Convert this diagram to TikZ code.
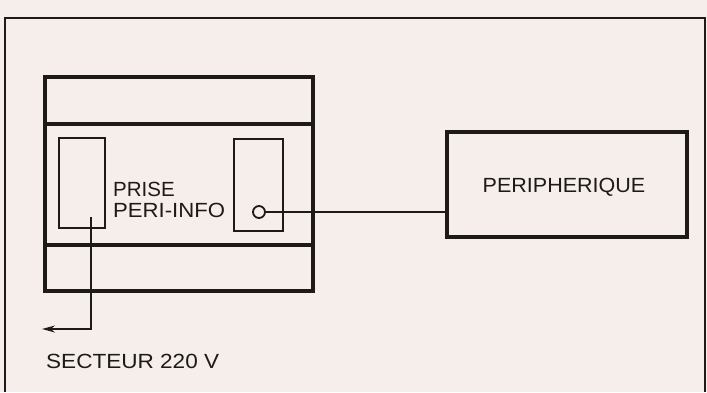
\documentclass[tikz,border=0pt]{standalone}
\usepackage{fontspec}
\setmainfont{Liberation Sans}
\usetikzlibrary{arrows.meta}
\definecolor{paper}{HTML}{F5EEEA}
\definecolor{ink}{HTML}{1E1A18}
\begin{document}
\begin{tikzpicture}[x=1pt,y=-1pt,
  box/.style={draw=ink,rectangle,inner sep=0pt,outer sep=0pt,anchor=north west},
  lbl/.style={text=ink,inner sep=0pt,anchor=base west,font=\fontsize{20.5}{24}\selectfont},
  wire/.style={draw=ink,line width=1.6pt}]
\fill[paper] (0,0) rectangle (707,392);
\useasboundingbox (0,0) rectangle (707,392);
% outer frame (open at bottom)
\draw[ink,line width=1.8pt] (5,392) -- (5,18) -- (705,18) -- (705,392);
% device
\node[box,line width=3.4pt,minimum width=268pt,minimum height=214pt] (dev) at (45,77) {};
\draw[ink,line width=3.2pt] (45,124) -- (313,124);
\draw[ink,line width=3.2pt] (45,245) -- (313,245);
\node[box,line width=2.4pt,minimum width=46pt,minimum height=90pt] (slotl) at (59,138) {};
\node[box,line width=2.4pt,minimum width=49pt,minimum height=92pt] (slotr) at (234,139) {};
\node[draw=ink,circle,line width=1.8pt,minimum size=12pt,inner sep=0pt,outer sep=0pt] (jack) at (259,212) {};
% peripheral
\node[box,line width=3.2pt,minimum width=240pt,minimum height=105pt] (periph) at (447,132) {};
\node[lbl,anchor=base] (ptxt) at (564,192) {\scalebox{1.05}[1]{PERIPHERIQUE}};
% labels
\node[lbl] (prise) at (113,196) {PRISE};
\node[lbl] (peri) at (113,217) {\scalebox{1.08}[1]{PERI-INFO}};
\node[lbl] (sect) at (46,368) {\scalebox{1.1}[1]{SECTEUR 220 V}};
% connectors
\draw[wire] (jack.east) -- (jack -| periph.west);
\coordinate (plug) at (91,217);
\coordinate (mains) at (42,329);
\draw[wire,-{Stealth[length=13pt,width=7pt]}] (plug) |- (mains);
\end{tikzpicture}
\end{document}
